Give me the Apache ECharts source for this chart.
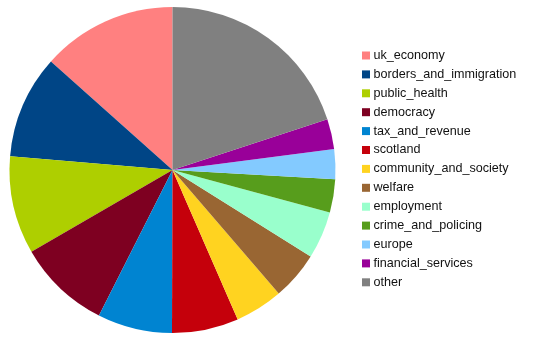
<!DOCTYPE html>
<html lang="en">
<head>
    <meta charset="UTF-8">
    <title>Pie</title>
    <style>
        html, body { margin: 0; padding: 0; background: #fff; }
        #chart { width: 535px; height: 338px; }
    </style>
</head>
<body>
<div id="chart"></div>
<script src="https://cdn.jsdelivr.net/npm/echarts@6/dist/echarts.min.js"></script>
<script>
    var categories = ['uk_economy', 'borders_and_immigration', 'public_health', 'democracy',
        'tax_and_revenue', 'scotland', 'community_and_society', 'welfare', 'employment',
        'crime_and_policing', 'europe', 'financial_services', 'other'];
    var values = [13.4, 10.25, 9.7, 9.2, 7.4, 6.6, 4.75, 4.8, 4.7, 3.3, 2.95, 3.0, 19.95];
    var colors = ['#ff8080', '#004586', '#aecf00', '#7e0021', '#0084d1', '#c5000b', '#ffd320',
        '#996633', '#99ffcc', '#579d1c', '#83caff', '#990099', '#808080'];

    var chart = echarts.init(document.getElementById('chart'));
    var option = {
        animation: false,
        color: colors,
        legend: {
            orient: 'vertical',
            left: 357,
            top: 43.5,
            itemWidth: 8,
            itemHeight: 8,
            itemGap: 4.9,
            icon: 'rect',
            textStyle: {
                fontFamily: 'Liberation Sans',
                fontSize: 12.6,
                lineHeight: 14,
                color: '#111',
                padding: [0, 0, 0, -1.5]
            },
            data: categories
        },
        series: [
            {
                type: 'pie',
                center: [172.5, 170],
                radius: 163,
                startAngle: 90,
                clockwise: false,
                label: { show: false },
                labelLine: { show: false },
                emphasis: { disabled: true },
                data: categories.map(function (c, i) {
                    return { name: c, value: values[i] };
                })
            }
        ]
    };
    chart.setOption(option);
</script>
</body>
</html>
